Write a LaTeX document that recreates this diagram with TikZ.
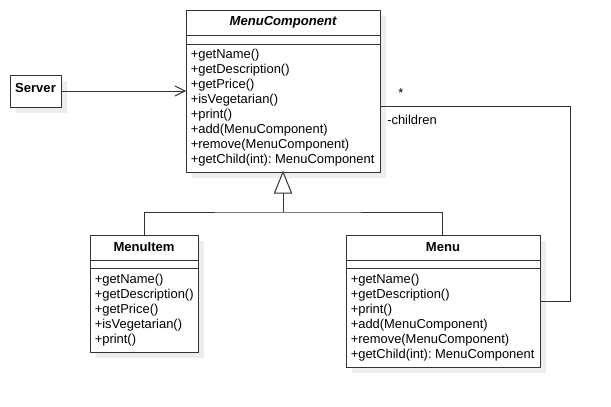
\documentclass[tikz,border=0pt]{standalone}
\usepackage{fontspec}
\setmainfont{Liberation Sans}
\usetikzlibrary{arrows.meta}
\frenchspacing
\definecolor{lc}{HTML}{333333}
\definecolor{shc}{HTML}{EDEDED}
\tikzset{
  px/.style={x=0.75pt,y=-0.75pt},
  ln/.style={draw=lc,line width=0.75pt},
  sh/.style={fill=shc,draw=none},
  box/.style={ln,fill=white},
  mtxt/.style={anchor=west,inner sep=0pt,font=\fontsize{9.7}{12}\selectfont,text=black},
  htxt/.style={anchor=center,inner sep=0pt,font=\fontsize{9.8}{12}\selectfont\bfseries,text=black},
  lbl/.style={inner sep=0pt,font=\fontsize{9.7}{12}\selectfont,text=black}
}
\begin{document}
\begin{tikzpicture}[px]
\useasboundingbox (0,0) rectangle (611,407);
% shadows
\fill[sh] (192,16) rectangle (386,178);
\fill[sh] (16,81) rectangle (67,113);
\fill[sh] (96,241) rectangle (204,358);
\fill[sh] (352,241) rectangle (546,373);
% MenuComponent
\draw[box] (186,10) rectangle (380,172);
\draw[ln] (186,35) -- (380,35);
\draw[ln] (186,44) -- (380,44);
\node[htxt,font=\fontsize{9.8}{12}\selectfont\bfseries\itshape] (mc) at (283,22) {MenuComponent};
\node[mtxt] (mc1) at (190.5,55.5) {+getName()};
\node[mtxt] (mc2) at (190.5,70.5) {+getDescription()};
\node[mtxt] (mc3) at (190.5,85.5) {+getPrice()};
\node[mtxt] (mc4) at (190.5,100.5) {+isVegetarian()};
\node[mtxt] (mc5) at (190.5,115.5) {+print()};
\node[mtxt] (mc6) at (190.5,130.5) {+add(MenuComponent)};
\node[mtxt] (mc7) at (190.5,145.5) {+remove(MenuComponent)};
\node[mtxt] (mc8) at (190.5,160.5) {+getChild(int): MenuComponent};
% Server
\draw[box] (10,75) rectangle (61,107);
\node[htxt] (srv) at (35.5,88) {Server};
% MenuItem
\draw[box] (90,235) rectangle (198,352);
\draw[ln] (90,260) -- (198,260);
\draw[ln] (90,268) -- (198,268);
\node[htxt] (mi) at (144,247) {MenuItem};
\node[mtxt] (mi1) at (94.5,280.5) {+getName()};
\node[mtxt] (mi2) at (94.5,295.5) {+getDescription()};
\node[mtxt] (mi3) at (94.5,310.5) {+getPrice()};
\node[mtxt] (mi4) at (94.5,325.5) {+isVegetarian()};
\node[mtxt] (mi5) at (94.5,340.5) {+print()};
% Menu
\draw[box] (346,235) rectangle (540,367);
\draw[ln] (346,260) -- (540,260);
\draw[ln] (346,268) -- (540,268);
\node[htxt] (mn) at (443,247) {Menu};
\node[mtxt] (mn1) at (350.5,280.5) {+getName()};
\node[mtxt] (mn2) at (350.5,295.5) {+getDescription()};
\node[mtxt] (mn3) at (350.5,310.5) {+print()};
\node[mtxt] (mn4) at (350.5,325.5) {+add(MenuComponent)};
\node[mtxt] (mn5) at (350.5,340.5) {+remove(MenuComponent)};
\node[mtxt] (mn6) at (350.5,355.5) {+getChild(int): MenuComponent};
% coordinates
\coordinate (srvR) at (61,91);
\coordinate (mcL) at (186,91);
\coordinate (mcB) at (283,172);
\coordinate (tb) at (283,193);
\coordinate (jn) at (283,212);
\coordinate (miT) at (144,235);
\coordinate (mnT) at (442,235);
\coordinate (mcR) at (380,106);
\coordinate (c1) at (570,106);
\coordinate (c2) at (570,301);
\coordinate (mnR) at (540,301);
% association Server -> MenuComponent
\draw[ln,-{Straight Barb[length=7.5pt,width=7.5pt,line width=0.75pt]}] (srvR) -- (mcL);
% generalization
\draw[ln,fill=white] (mcB) -- (291.5,193) -- (274.5,193) -- cycle;
\draw[ln] (tb) -- (jn);
\draw[ln] (miT) |- (jn) -| (mnT);
% children
\draw[ln] (mcR) -- (c1) -- (c2) -- (mnR);
\node[lbl] (star) at (401,93) {*};
\node[lbl,anchor=west] (chl) at (387,119.5) {-children};
\end{tikzpicture}
\end{document}
